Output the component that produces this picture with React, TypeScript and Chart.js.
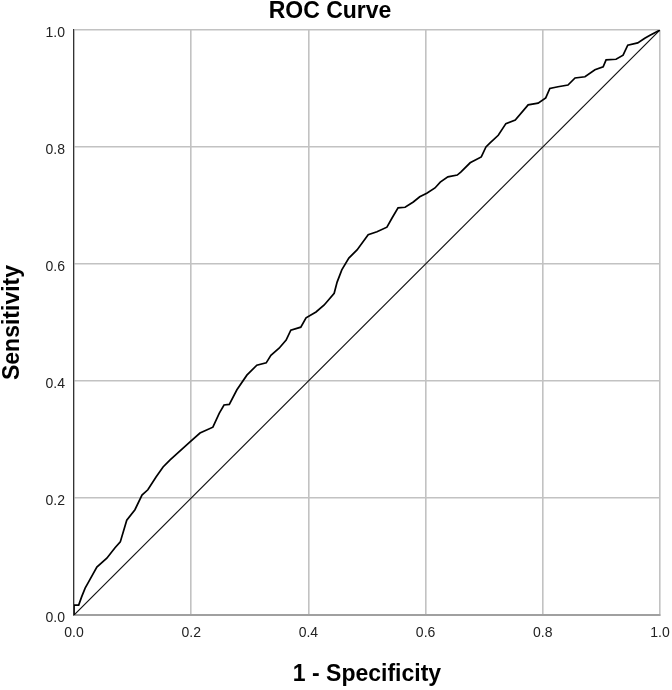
import React, { useEffect, useRef } from "react";
import { Chart, registerables } from "chart.js";

Chart.register(...registerables);

// ROC curve points (1 - Specificity, Sensitivity)
const fprValues = [
  0, 0, 0.008, 0.013, 0.019, 0.024, 0.039, 0.056, 0.07, 0.079, 0.09, 0.104, 0.116, 0.126, 0.14,
  0.152, 0.164, 0.198, 0.215, 0.237, 0.248, 0.256, 0.265, 0.278, 0.295, 0.312, 0.328, 0.336,
  0.35, 0.362, 0.37, 0.387, 0.396, 0.413, 0.427, 0.444, 0.449, 0.457, 0.469, 0.483, 0.502,
  0.517, 0.534, 0.543, 0.553, 0.565, 0.579, 0.59, 0.602, 0.616, 0.625, 0.638, 0.654, 0.66,
  0.676, 0.695, 0.703, 0.71, 0.724, 0.737, 0.753, 0.775, 0.792, 0.805, 0.812, 0.826, 0.843,
  0.855, 0.872, 0.889, 0.903, 0.908, 0.925, 0.937, 0.945, 0.962, 0.974, 0.983, 1,
];
const tprValues = [
  0, 0.017, 0.017, 0.031, 0.046, 0.055, 0.082, 0.097, 0.115, 0.125, 0.162, 0.18, 0.205, 0.214,
  0.236, 0.253, 0.265, 0.296, 0.311, 0.321, 0.345, 0.359, 0.36, 0.385, 0.41, 0.427, 0.431,
  0.444, 0.456, 0.47, 0.487, 0.492, 0.508, 0.518, 0.53, 0.55, 0.569, 0.59, 0.61, 0.624, 0.65,
  0.655, 0.663, 0.679, 0.696, 0.697, 0.706, 0.715, 0.721, 0.73, 0.74, 0.749, 0.752, 0.757,
  0.773, 0.783, 0.8, 0.807, 0.82, 0.84, 0.846, 0.872, 0.875, 0.884, 0.9, 0.903, 0.906, 0.918,
  0.92, 0.932, 0.937, 0.949, 0.95, 0.957, 0.974, 0.978, 0.986, 0.991, 1,
];
// Reference (chance) line
const refX = [0, 1];
const refY = [0, 1];
// Axis ticks
const tickValues = [0, 0.2, 0.4, 0.6, 0.8, 1.0];

const FONT = "'Liberation Sans', Arial, Helvetica, sans-serif";

export default function App() {
  const canvasRef = useRef<HTMLCanvasElement | null>(null);

  useEffect(() => {
    const canvas = canvasRef.current;
    if (!canvas) return;
    const curve = fprValues.map((x, i) => ({ x, y: tprValues[i] }));
    const ref = refX.map((x, i) => ({ x, y: refY[i] }));
    const setTicks = (scale: any) => {
      scale.ticks = tickValues.map((v) => ({ value: v }));
    };
    const chart = new Chart(canvas, {
      type: "scatter",
      data: {
        datasets: [
          {
            data: curve,
            showLine: true,
            borderColor: "#000",
            borderWidth: 1.7,
            pointRadius: 0,
            tension: 0,
          },
          {
            data: ref,
            showLine: true,
            borderColor: "#111",
            borderWidth: 1.2,
            pointRadius: 0,
          },
        ],
      },
      options: {
        animation: false,
        responsive: false,
        maintainAspectRatio: false,
        layout: { padding: { left: 0, right: 12, top: 0, bottom: 0 } },
        plugins: {
          legend: { display: false },
          tooltip: { enabled: false },
          title: {
            display: true,
            text: "ROC Curve",
            color: "#000",
            font: { family: FONT, size: 23, weight: "bold", lineHeight: 1.0 },
            padding: { top: 0, bottom: 7 },
          },
        },
        scales: {
          x: {
            type: "linear",
            min: 0,
            max: 1,
            afterBuildTicks: setTicks,
            afterFit: (scale: any) => {
              scale.height = 75;
              scale.paddingRight = 0;
              scale.paddingLeft = 0;
            },
            grid: { color: "#c2c2c2", lineWidth: 1.6, drawTicks: false },
            border: { color: "#a0a0a0", width: 2 },
            ticks: {
              color: "#222",
              padding: 10,
              maxRotation: 0,
              font: { family: FONT, size: 14 },
              callback: (v: any) => Number(v).toFixed(1),
            },
            title: {
              display: true,
              text: "1 - Specificity",
              color: "#000",
              font: { family: FONT, size: 23, weight: "bold", lineHeight: 1.1 },
              padding: { top: 0, bottom: 3 },
            },
          },
          y: {
            type: "linear",
            min: 0,
            max: 1,
            afterBuildTicks: setTicks,
            afterFit: (scale: any) => {
              scale.width = 74;
            },
            grid: { color: "#c2c2c2", lineWidth: 1.6, drawTicks: false },
            border: { color: "#333", width: 1.2 },
            ticks: {
              color: "#222",
              padding: 9,
              labelOffset: 3,
              font: { family: FONT, size: 14 },
              callback: (v: any) => Number(v).toFixed(1),
            },
            title: {
              display: true,
              text: "Sensitivity",
              color: "#000",
              font: { family: FONT, size: 23, weight: "bold", lineHeight: 1.1 },
              padding: { top: 0, bottom: 0 },
            },
          },
        },
      },
    });
    return () => chart.destroy();
  }, []);

  return (
    <div style={{ position: "absolute", left: 0, top: 0, width: 672, height: 690, background: "#fff" }}>
      <canvas ref={canvasRef} width={672} height={690} style={{ display: "block" }} />
    </div>
  );
}
